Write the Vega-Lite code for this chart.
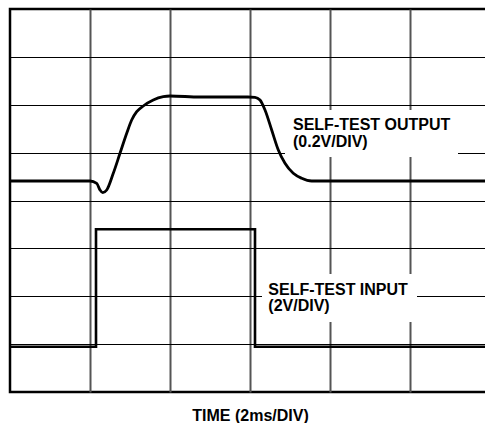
{
  "$schema": "https://vega.github.io/schema/vega-lite/v6.json",
  "autosize": "none",
  "width": 480,
  "height": 383,
  "padding": {"left": 10, "top": 9, "right": 0, "bottom": 31},
  "background": "white",
  "config": {
    "view": {"stroke": "black", "strokeWidth": 2.5},
    "font": "Liberation Sans"
  },
  "datasets": {
    "output": [
      {"t": 0.0, "v": 4.407}, {"t": 1.0, "v": 4.407}, {"t": 1.084, "v": 4.359},
      {"t": 1.125, "v": 4.219}, {"t": 1.159, "v": 4.163}, {"t": 1.209, "v": 4.219},
      {"t": 1.291, "v": 4.568}, {"t": 1.375, "v": 4.986}, {"t": 1.459, "v": 5.404},
      {"t": 1.521, "v": 5.681}, {"t": 1.584, "v": 5.855}, {"t": 1.666, "v": 5.974},
      {"t": 1.791, "v": 6.099}, {"t": 1.916, "v": 6.168}, {"t": 2.0, "v": 6.183},
      {"t": 2.375, "v": 6.162}, {"t": 2.975, "v": 6.162}, {"t": 3.0625, "v": 6.156},
      {"t": 3.125, "v": 6.099}, {"t": 3.1875, "v": 5.89}, {"t": 3.271, "v": 5.473},
      {"t": 3.354, "v": 5.055}, {"t": 3.4375, "v": 4.777}, {"t": 3.541, "v": 4.568},
      {"t": 3.646, "v": 4.464}, {"t": 3.771, "v": 4.407}, {"t": 6.0, "v": 4.407}
    ],
    "input": [
      {"i": 0, "t": 0.0, "v": 0.946}, {"i": 1, "t": 1.075, "v": 0.946},
      {"i": 2, "t": 1.075, "v": 3.398}, {"i": 3, "t": 3.0625, "v": 3.398},
      {"i": 4, "t": 3.0625, "v": 0.946}, {"i": 5, "t": 6.0, "v": 0.946}
    ],
    "boxes": [
      {"x1": 3.4375, "x2": 5.6, "y1": 4.909, "y2": 5.89},
      {"x1": 3.15, "x2": 5.0875, "y1": 1.462, "y2": 2.465}
    ],
    "labels": [
      {"t": 3.5375, "v": 5.473, "label": "SELF-TEST OUTPUT"},
      {"t": 3.5375, "v": 5.117, "label": "(0.2V/DIV)"},
      {"t": 3.229, "v": 2.026, "label": "SELF-TEST INPUT"},
      {"t": 3.229, "v": 1.692, "label": "(2V/DIV)"}
    ]
  },
  "layer": [
    {
      "data": {"name": "boxes"},
      "mark": {"type": "rect", "fill": "white", "stroke": null},
      "encoding": {
        "x": {
          "field": "x1", "type": "quantitative",
          "scale": {"domain": [0, 6], "nice": false, "zero": false},
          "axis": {
            "values": [1, 2, 3, 4, 5],
            "grid": true, "gridColor": "#555555", "gridWidth": 2,
            "domain": false, "ticks": false, "labels": false,
            "title": "TIME (2ms/DIV)",
            "titleFont": "Liberation Sans", "titleFontSize": 16, "titleFontWeight": "bold",
            "titleColor": "black", "titleBaseline": "alphabetic", "titleY": 28
          }
        },
        "x2": {"field": "x2"},
        "y": {
          "field": "y1", "type": "quantitative",
          "scale": {"domain": [0, 8], "nice": false, "zero": false},
          "axis": {
            "values": [1, 2, 3, 4, 5, 6, 7],
            "grid": true, "gridColor": "black", "gridWidth": 1.2,
            "domain": false, "ticks": false, "labels": false, "title": null
          }
        },
        "y2": {"field": "y2"}
      }
    },
    {
      "data": {"name": "output"},
      "mark": {"type": "line", "color": "black", "strokeWidth": 2.8, "interpolate": "monotone"},
      "encoding": {
        "x": {"field": "t", "type": "quantitative"},
        "y": {"field": "v", "type": "quantitative"}
      }
    },
    {
      "data": {"name": "input"},
      "mark": {"type": "line", "color": "black", "strokeWidth": 2.6},
      "encoding": {
        "x": {"field": "t", "type": "quantitative"},
        "y": {"field": "v", "type": "quantitative"},
        "order": {"field": "i", "type": "quantitative"}
      }
    },
    {
      "data": {"name": "labels"},
      "mark": {"type": "text", "font": "Liberation Sans", "fontWeight": "bold", "fontSize": 16, "align": "left", "baseline": "alphabetic", "color": "black"},
      "encoding": {
        "x": {"field": "t", "type": "quantitative"},
        "y": {"field": "v", "type": "quantitative"},
        "text": {"field": "label"}
      }
    }
  ]
}
